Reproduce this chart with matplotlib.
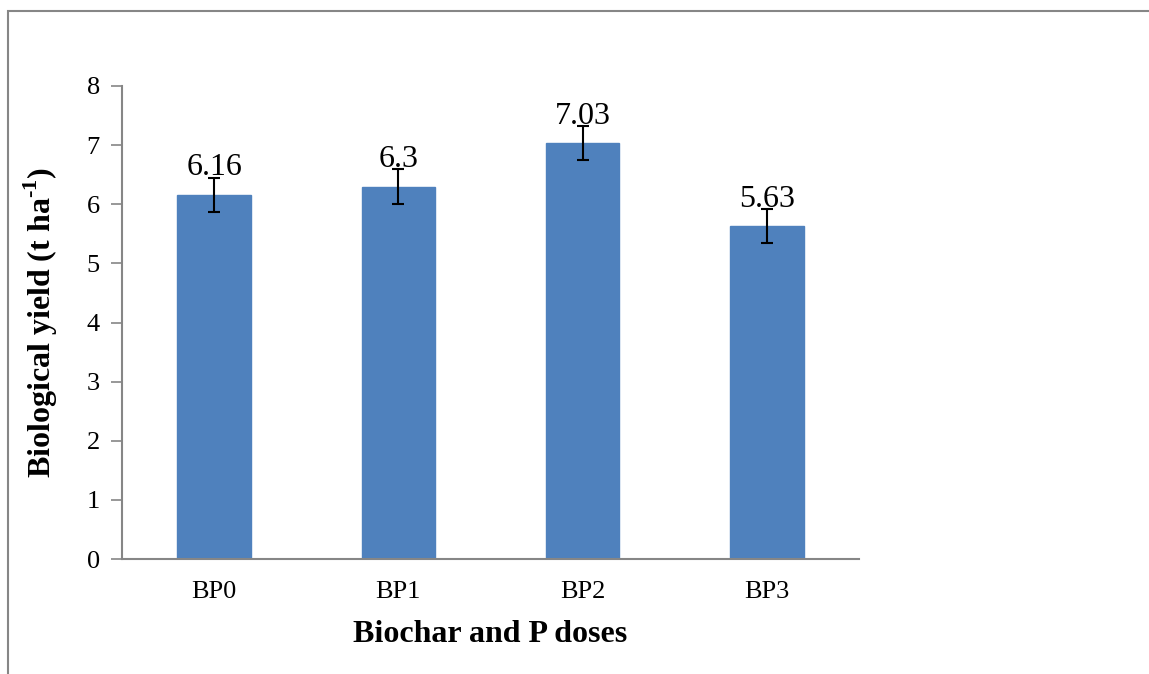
import matplotlib
matplotlib.use("Agg")
import matplotlib.pyplot as plt
from matplotlib.patches import Rectangle

categories = ["BP0", "BP1", "BP2", "BP3"]
values = [6.16, 6.3, 7.03, 5.63]
errors = [0.29, 0.29, 0.29, 0.29]
labels = ["6.16", "6.3", "7.03", "5.63"]

plt.rcParams['font.family'] = ['Liberation Serif', 'DejaVu Serif']
plt.rcParams['mathtext.fontset'] = 'custom'
plt.rcParams['mathtext.rm'] = 'Liberation Serif'
plt.rcParams['mathtext.bf'] = 'Liberation Serif:bold'

W, H = 1149, 674
fig = plt.figure(figsize=(W/100, H/100), dpi=100)

# outer frame (only left and top visible)
fig.patches.append(Rectangle((8/W, -0.1), 1.2, (H-11)/H + 0.1, transform=fig.transFigure,
                             fill=False, edgecolor='#868686', linewidth=1.5))

ax = fig.add_axes([122/W, 1-559/H, (859-122)/W, (559-86)/H])
x = range(len(categories))
ax.bar(x, values, width=0.4, color='#4F81BD', edgecolor='#4F81BD', zorder=2)
ax.errorbar(x, values, yerr=errors, fmt='none', ecolor='black', elinewidth=1.5,
            capsize=4.5, capthick=1.5, zorder=3)
for xi, v, lab in zip(x, values, labels):
    ax.annotate(lab, (xi, v), xytext=(0, 9), textcoords='offset points',
                ha='center', va='bottom', fontsize=23, zorder=4)

ax.set_xlim(-0.5, 3.5)
ax.set_ylim(0, 8)
ax.set_yticks(range(0, 9))
ax.set_xticks(list(x))
ax.set_xticklabels(categories)
ax.tick_params(axis='y', length=8, width=1.2, color='#868686', labelsize=19, pad=8, direction='out')
ax.tick_params(axis='x', length=0, labelsize=19, pad=16)
for s in ['top', 'right']:
    ax.spines[s].set_visible(False)
for s in ['left', 'bottom']:
    ax.spines[s].set_color('#868686')
    ax.spines[s].set_linewidth(1.5)

ax.set_xlabel("Biochar and P doses", fontsize=23, fontweight='bold', labelpad=12)
ax.set_ylabel("Biological yield (t ha$^{\\mathbf{\u2010}\\mathbf{1}}$)", fontsize=23,
              fontweight='bold', labelpad=19)

fig.savefig("out.png", dpi=100)
